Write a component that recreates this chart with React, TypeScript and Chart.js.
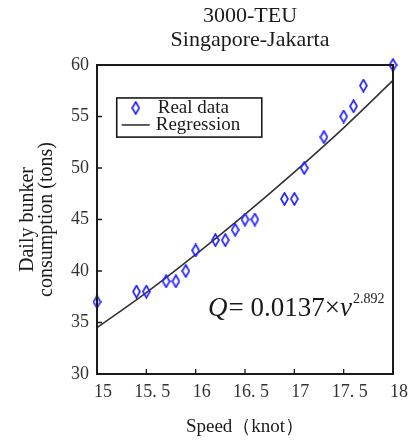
import React, { useEffect, useRef } from 'react';
import { Chart, registerables } from 'chart.js';
Chart.register(...registerables);

const speeds = [15, 15.4, 15.5, 15.7, 15.8, 15.9, 16.0, 16.2, 16.3, 16.4, 16.5, 16.6, 16.9, 17.0, 17.1, 17.3, 17.5, 17.6, 17.7, 18.0];
const consumption = [37, 38, 38, 39, 39, 40, 42, 43, 43, 44, 45, 45, 47, 47, 50, 53, 55, 56, 58, 60];
const regSpeeds = [15, 15.5, 16, 16.5, 17, 17.5, 18];
const regConsumption = [34.5, 37.9, 41.6, 45.5, 49.6, 53.9, 58.5];
const xTickValues = [15, 15.5, 16, 16.5, 17, 17.5, 18];
const xTickLabels = ['15', '15. 5', '16', '16. 5', '17', '17. 5', '18'];
const titleLines = ['3000-TEU', 'Singapore-Jakarta'];
const yTitleLines = ['Daily bunker', 'consumption (tons)'];
const xTitle = 'Speed\uFF08knot\uFF09';
const legendLabels = ['Real data', 'Regression'];

const SERIF = '"Liberation Serif", "DejaVu Serif", serif';
const BLUE = '#2424ff';
const INK = '#1a1a1a';

function makeDiamond(): HTMLCanvasElement {
  const c = document.createElement('canvas');
  c.width = 9;
  c.height = 14;
  const g = c.getContext('2d')!;
  g.strokeStyle = BLUE;
  g.lineWidth = 1.7;
  g.beginPath();
  g.moveTo(4.5, 1);
  g.lineTo(8, 7);
  g.lineTo(4.5, 13);
  g.lineTo(1, 7);
  g.closePath();
  g.stroke();
  return c;
}

export default function App() {
  const ref = useRef<HTMLCanvasElement>(null);
  useEffect(() => {
    const diamond = makeDiamond();
    const decor = {
      id: 'decor',
      afterDraw(chart: any) {
        const ctx = chart.ctx as CanvasRenderingContext2D;
        const { left, right, top, bottom } = chart.chartArea;
        const xs = chart.scales.x;
        const ys = chart.scales.y;
        ctx.save();
        // frame
        ctx.strokeStyle = INK;
        ctx.lineWidth = 2;
        ctx.strokeRect(left, top, right - left, bottom - top);
        // inward ticks
        ctx.lineWidth = 1.3;
        ctx.beginPath();
        xTickValues.forEach((v) => {
          const px = xs.getPixelForValue(v);
          ctx.moveTo(px, bottom);
          ctx.lineTo(px, bottom - 5);
        });
        ys.ticks.forEach((t: any) => {
          const py = ys.getPixelForValue(t.value);
          ctx.moveTo(left, py);
          ctx.lineTo(left + 5, py);
        });
        ctx.stroke();
        // title
        ctx.fillStyle = INK;
        ctx.font = `22px ${SERIF}`;
        ctx.textAlign = 'center';
        ctx.textBaseline = 'middle';
        const cx = (left + right) / 2 + 5;
        ctx.fillText(titleLines[0], cx, 16);
        ctx.fillText(titleLines[1], cx, 40);
        // legend box
        const lx = xs.getPixelForValue(15.2);
        const lx2 = xs.getPixelForValue(16.67);
        const ly = ys.getPixelForValue(56.8);
        const ly2 = ys.getPixelForValue(53.0);
        ctx.lineWidth = 1.6;
        ctx.strokeStyle = INK;
        ctx.strokeRect(lx, ly, lx2 - lx, ly2 - ly);
        const row1 = ly + 10;
        const row2 = ly + 27;
        ctx.drawImage(diamond, lx + 19 - 4.5, row1 - 7);
        ctx.beginPath();
        ctx.lineWidth = 1.6;
        ctx.strokeStyle = '#333';
        ctx.moveTo(lx + 5, row2);
        ctx.lineTo(lx + 33, row2);
        ctx.stroke();
        ctx.font = `19px ${SERIF}`;
        ctx.textAlign = 'left';
        ctx.fillStyle = INK;
        ctx.fillText(legendLabels[0], lx + 41, row1);
        ctx.fillText(legendLabels[1], lx + 39, row2);
        // equation
        let ex = 208;
        const eb = 316;
        ctx.textBaseline = 'alphabetic';
        ctx.font = `italic 27px ${SERIF}`;
        ctx.fillText('Q', ex, eb);
        ex += ctx.measureText('Q').width + 1;
        ctx.font = `27px ${SERIF}`;
        const mid = '= 0.0137\u00D7';
        ctx.fillText(mid, ex, eb);
        ex += ctx.measureText(mid).width;
        ctx.font = `italic 27px ${SERIF}`;
        ctx.fillText('v', ex, eb);
        ex += ctx.measureText('v').width + 1;
        ctx.font = `14px ${SERIF}`;
        ctx.fillText('2.892', ex, eb - 13);
        ctx.restore();
      },
    };
    const chart = new Chart(ref.current!, {
      type: 'scatter',
      data: {
        datasets: [
          {
            type: 'scatter',
            label: legendLabels[0],
            data: speeds.map((s, i) => ({ x: s, y: consumption[i] })),
            pointStyle: diamond as any,
            pointRadius: 5,
            clip: false as any,
          },
          {
            type: 'line',
            label: legendLabels[1],
            data: regSpeeds.map((s, i) => ({ x: s, y: regConsumption[i] })),
            borderColor: '#333333',
            borderWidth: 1.6,
            pointRadius: 0,
            tension: 0.4,
            fill: false,
          } as any,
        ],
      },
      options: {
        responsive: false,
        animation: false,
        devicePixelRatio: 1,
        layout: { padding: { left: 0, right: 17, top: 65, bottom: 0 } },
        plugins: {
          legend: { display: false },
          title: { display: false },
          tooltip: { enabled: false },
        },
        scales: {
          x: {
            type: 'linear',
            min: 15,
            max: 18,
            afterBuildTicks: (s: any) => {
              s.ticks = xTickValues.map((v) => ({ value: v }));
            },
            afterFit: (s: any) => {
              s.height = 69;
            },
            grid: { display: false, drawTicks: false },
            border: { display: false },
            ticks: {
              padding: 7,
              labelOffset: 6,
              color: '#333',
              font: { family: SERIF, size: 18 },
              maxRotation: 0,
              autoSkip: false,
              callback: (v: any) => {
                const i = xTickValues.findIndex((t) => Math.abs(t - Number(v)) < 1e-6);
                return i >= 0 ? xTickLabels[i] : '';
              },
            },
            title: {
              display: true,
              text: xTitle,
              color: INK,
              font: { family: SERIF, size: 19, lineHeight: 1.2 },
              padding: { top: 0, bottom: 5 },
            },
          },
          y: {
            type: 'linear',
            min: 30,
            max: 60,
            afterFit: (s: any) => {
              s.width = 97;
            },
            grid: { display: false, drawTicks: false },
            border: { display: false },
            ticks: {
              stepSize: 5,
              padding: 8,
              color: '#333',
              font: { family: SERIF, size: 18 },
            },
            title: {
              display: true,
              text: yTitleLines,
              color: INK,
              font: { family: SERIF, size: 20, lineHeight: 0.95 },
              padding: { top: 18, bottom: 0 },
            },
          },
        },
      },
      plugins: [decor],
    });
    return () => chart.destroy();
  }, []);
  return (
    <div style={{ position: 'fixed', left: 0, top: 0, width: 410, height: 443, background: '#fff' }}>
      <canvas ref={ref} width={410} height={443} style={{ width: 410, height: 443, display: 'block' }} />
    </div>
  );
}
